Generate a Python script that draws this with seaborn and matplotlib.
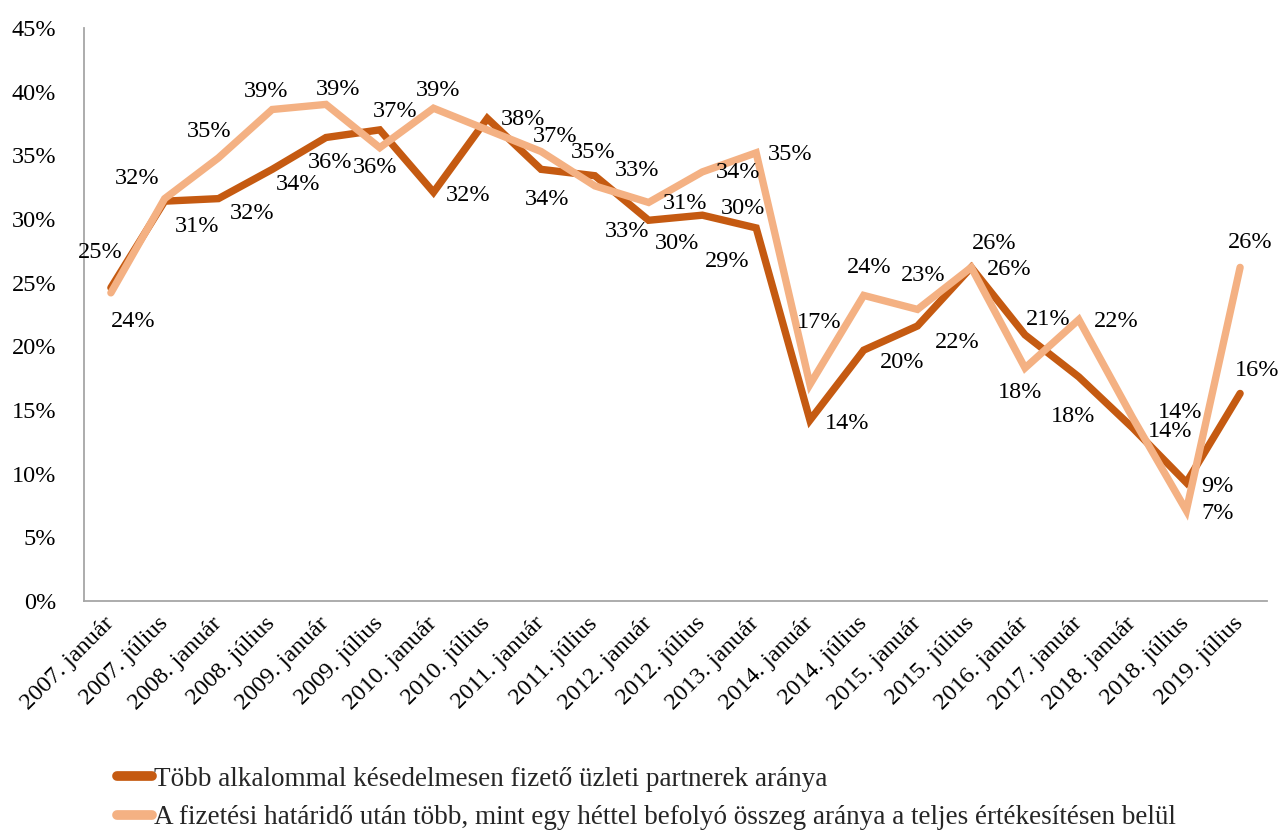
import numpy as np
import pandas as pd
import matplotlib
matplotlib.use("Agg")
import matplotlib.pyplot as plt
import seaborn as sns
from matplotlib.lines import Line2D

categories = ["2007. január", "2007. július", "2008. január", "2008. július",
              "2009. január", "2009. július", "2010. január", "2010. július",
              "2011. január", "2011. július", "2012. január", "2012. július",
              "2013. január", "2014. január", "2014. július", "2015. január",
              "2015. július", "2016. január", "2017. január", "2018. január",
              "2018. július", "2019. július"]

series_dark_name = "Több alkalommal késedelmesen fizető üzleti partnerek aránya"
series_light_name = "A fizetési határidő után több, mint egy héttel befolyó összeg aránya a teljes értékesítésen belül"

dark_values = [24.6, 31.4, 31.6, 33.9, 36.4, 37.0, 32.1, 37.9, 33.9, 33.4, 29.9,
               30.3, 29.3, 14.2, 19.7, 21.6, 26.2, 20.9, 17.6, 13.6, 9.3, 16.3]
light_values = [24.2, 31.6, 34.8, 38.6, 39.0, 35.6, 38.7, 37.0, 35.3, 32.6, 31.3,
                33.7, 35.2, 17.0, 24.0, 22.9, 26.2, 18.3, 22.1, 14.4, 7.1, 26.2]

y_ticks = [0, 5, 10, 15, 20, 25, 30, 35, 40, 45]

# label offsets in output pixels (dx right, dy down) - style only
dark_label_offsets = [(-11, -35), (32, 25), (34, 15), (26, 15), (4, 25), (15, -18),
                      (35, 3), (36, 1), (6, 30), (42, -5), (28, 23), (41, -7),
                      (-29, 34), (37, 3), (38, 12), (40, 17), (38, 2), (23, -15),
                      (-6, 40), (38, 4), (31, 4), (17, -23)]
light_label_offsets = [(22, 29), (-28, -20), (-9, -26), (-6, -18), (12, -15), (-5, 20),
                       (5, -18), (68, 7), (52, 1), (32, 46), (36, 1), (36, 1),
                       (34, 2), (9, -62), (5, -28), (6, -34), (23, -24), (-5, 25),
                       (37, 2), (48, -5), (31, 3), (10, -25)]

DARK = "#C55A11"
LIGHT = "#F4B183"

sns.set_theme(style="white")
plt.rcParams["font.family"] = ["Liberation Serif", "DejaVu Serif"]

fig = plt.figure(figsize=(12.8, 8.32), dpi=100)
ax = fig.add_axes([84 / 1280, 1 - 601 / 832, (1267 - 84) / 1280, (601 - 28) / 832])

x = np.arange(len(categories))
df = pd.DataFrame({
    "x": np.concatenate([x, x]),
    "value": dark_values + light_values,
    "series": [series_dark_name] * len(x) + [series_light_name] * len(x),
})

sns.lineplot(data=df, x="x", y="value", hue="series",
             palette={series_dark_name: DARK, series_light_name: LIGHT},
             linewidth=5.3, ax=ax, legend=False, sort=False)
for line in ax.get_lines():
    line.set_solid_capstyle("round")
    line.set_solid_joinstyle("miter")

for vals, offs in ((dark_values, dark_label_offsets), (light_values, light_label_offsets)):
    for i, (v, (dx, dy)) in enumerate(zip(vals, offs)):
        ax.annotate(f"{v:.0f}%", (i, v), xytext=(dx, -dy), textcoords="offset pixels",
                    ha="center", va="center", fontsize=17.5, color="black")

ax.set_xlim(-0.5, len(categories) - 0.5)
ax.set_ylim(0, 45)
ax.set_yticks(y_ticks)
ax.set_yticklabels([f"{t}%" for t in y_ticks], fontsize=17.5, color="black")
ax.set_xticks(x)
ax.set_xticklabels(categories, rotation=45, ha="right", va="center",
                   rotation_mode="anchor", fontsize=17.5, color="black")
ax.tick_params(axis="y", length=0, pad=20)
ax.tick_params(axis="x", length=0, pad=14)
ax.set_xlabel("")
ax.set_ylabel("")

for side in ("top", "right"):
    ax.spines[side].set_visible(False)
for side in ("left", "bottom"):
    ax.spines[side].set_color("#A6A6A6")
    ax.spines[side].set_linewidth(1.3)

handles = [Line2D([0], [0], color=DARK, linewidth=7, solid_capstyle="round"),
           Line2D([0], [0], color=LIGHT, linewidth=7, solid_capstyle="round")]
fig.legend(handles, [series_dark_name, series_light_name], loc="upper left",
           bbox_to_anchor=(106 / 1280, 1 - 756 / 832), frameon=False, fontsize=19.5,
           handlelength=1.3, handletextpad=0.08, labelspacing=0.5, borderaxespad=0)

fig.savefig("out.png", dpi=100)
